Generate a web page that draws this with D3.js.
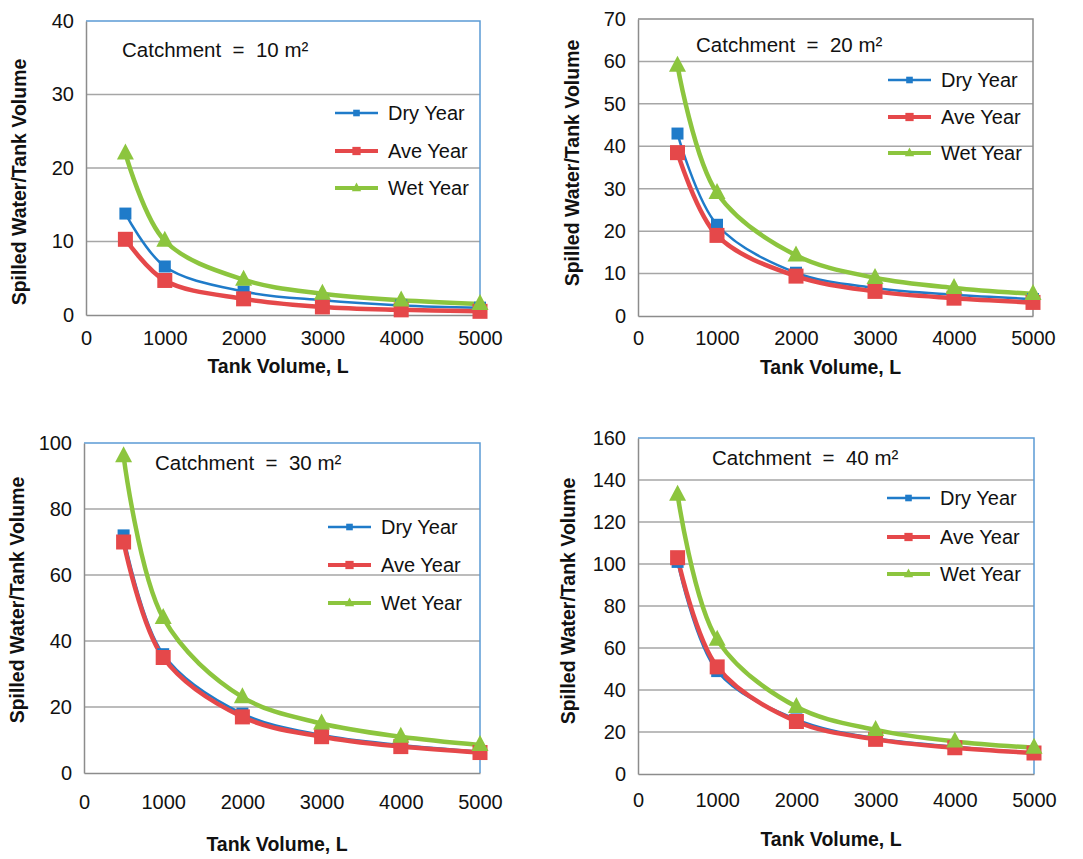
<!DOCTYPE html>
<html>
<head>
<meta charset="utf-8">
<script src="https://cdn.jsdelivr.net/npm/d3@7"></script>
<style>
  body { margin: 0; background: #fff; }
  text { font-family: "Liberation Sans", Arial, sans-serif; fill: #111; }
</style>
</head>
<body>
<div id="chart"></div>
<script>
// data
const tankVolumes = [500, 1000, 2000, 3000, 4000, 5000];
const xTicks = [0, 1000, 2000, 3000, 4000, 5000];
const seriesNames = ["Dry Year", "Ave Year", "Wet Year"];
const catchments = [10, 20, 30, 40];
const yMaxes = [40, 70, 100, 160];
const yTickSteps = [10, 10, 20, 20];

const dry10 = [13.8, 6.6, 3.2, 2.0, 1.3, 1.0];
const ave10 = [10.3, 4.7, 2.2, 1.1, 0.7, 0.5];
const wet10 = [22.0, 10.1, 4.8, 2.9, 2.0, 1.5];

const dry20 = [43.0, 21.5, 10.2, 6.6, 5.0, 4.0];
const ave20 = [38.5, 19.0, 9.4, 5.8, 4.2, 3.2];
const wet20 = [59.0, 29.0, 14.3, 9.0, 6.6, 5.2];

const dry30 = [72.0, 36.0, 18.0, 11.5, 8.5, 6.5];
const ave30 = [70.0, 35.0, 17.0, 11.0, 8.0, 6.2];
const wet30 = [96.0, 47.0, 23.0, 15.0, 11.0, 8.5];

const dry40 = [101.0, 49.0, 26.0, 17.0, 13.0, 10.0];
const ave40 = [103.0, 51.0, 25.0, 16.5, 12.5, 10.0];
const wet40 = [133.0, 64.0, 32.0, 21.0, 15.5, 12.5];

const panelData = [
  [dry10, ave10, wet10],
  [dry20, ave20, wet20],
  [dry30, ave30, wet30],
  [dry40, ave40, wet40]
];

const colors = ["#1f7bc9", "#e5484a", "#8cc53e"];
const lineWidths = [2.5, 4.5, 4.5];

// layout of each panel (pixel boxes)
const boxes = [
  {l: 86, r: 480, t: 21, b: 315, tickDy: 30, titleDy: 58, yTitleX: 19, yTitleY: 182, cx: 122, cy: 57, legY: [113, 151, 188], legX: 335, frame: "#5b9bd5"},
  {l: 638, r: 1033, t: 19, b: 316, tickDy: 29, titleDy: 58, yTitleX: 572, yTitleY: 163, cx: 696, cy: 52, legY: [80, 117, 153], legX: 888, frame: "#8c8c8c"},
  {l: 84, r: 480, t: 443, b: 773, tickDy: 36, titleDy: 78, yTitleX: 17, yTitleY: 600, cx: 155, cy: 470, legY: [527, 565, 603], legX: 328, frame: "#5b9bd5"},
  {l: 638, r: 1034, t: 438, b: 774, tickDy: 33, titleDy: 72, yTitleX: 568, yTitleY: 601, cx: 712, cy: 465, legY: [498, 537, 574], legX: 887, frame: "#5b9bd5"}
];

const svg = d3.select("#chart")
  .append("svg")
  .attr("width", 1083)
  .attr("height", 859);

function marker(g, i, x, y, big) {
  const s = big ? 1 : 0.55;
  if (i === 2) {
    const w = 17 * s, h = 16 * s;
    g.append("path")
      .attr("d", `M${x},${y - h * 0.62}L${x + w / 2},${y + h * 0.38}L${x - w / 2},${y + h * 0.38}Z`)
      .attr("fill", colors[i]);
  } else {
    const size = (i === 0 ? 12 : 15) * s;
    g.append("rect")
      .attr("x", x - size / 2).attr("y", y - size / 2)
      .attr("width", size).attr("height", size)
      .attr("fill", colors[i]);
  }
}

boxes.forEach((p, k) => {
  const x = d3.scaleLinear().domain([0, 5000]).range([p.l, p.r]);
  const y = d3.scaleLinear().domain([0, yMaxes[k]]).range([p.b, p.t]);
  const yTicks = d3.range(0, yMaxes[k] + 1, yTickSteps[k]);
  const g = svg.append("g");

  // grid lines
  g.selectAll(".grid")
    .data(yTicks.slice(1, -1))
    .enter().append("line")
    .attr("x1", p.l).attr("x2", p.r)
    .attr("y1", d => y(d)).attr("y2", d => y(d))
    .attr("stroke", "#a6a6a6").attr("stroke-width", 1.5);

  // frame: top and right
  g.append("path")
    .attr("d", `M${p.l},${p.t}H${p.r}V${p.b}`)
    .attr("fill", "none").attr("stroke", p.frame).attr("stroke-width", 1.5);

  // axes
  const xAxis = g.append("g")
    .attr("transform", `translate(0,${p.b})`)
    .call(d3.axisBottom(x).tickValues(xTicks).tickFormat(d3.format("d")).tickSize(0).tickPadding(p.tickDy - 14));
  const yAxis = g.append("g")
    .attr("transform", `translate(${p.l},0)`)
    .call(d3.axisLeft(y).tickValues(yTicks).tickFormat(d3.format("d")).tickSize(0).tickPadding(12));
  [xAxis, yAxis].forEach(a => {
    a.select(".domain").attr("stroke", "#8c8c8c").attr("stroke-width", 1.5);
    a.selectAll("text").attr("font-size", 20).attr("fill", "#111")
      .attr("font-family", "'Liberation Sans', Arial, sans-serif");
  });

  // axis titles
  g.append("text")
    .attr("x", (p.l + p.r) / 2 - 5)
    .attr("y", p.b + p.titleDy)
    .attr("text-anchor", "middle")
    .attr("font-size", 19.5).attr("font-weight", "bold")
    .text("Tank Volume, L");
  g.append("text")
    .attr("transform", `translate(${p.yTitleX + 7},${p.yTitleY}) rotate(-90)`)
    .attr("text-anchor", "middle")
    .attr("font-size", 19.5).attr("font-weight", "bold")
    .text("Spilled  Water/Tank Volume");

  // catchment label
  g.append("text")
    .attr("x", p.cx).attr("y", p.cy)
    .attr("font-size", 20.5)
    .style("white-space", "pre")
    .text(`Catchment  =  ${catchments[k]} m²`);

  // series
  panelData[k].forEach((vals, i) => {
    const pts = tankVolumes.map((v, j) => [x(v), y(vals[j])]);
    g.append("path")
      .attr("d", d3.line().curve(d3.curveCatmullRom.alpha(0.5))(pts))
      .attr("fill", "none")
      .attr("stroke", colors[i])
      .attr("stroke-width", lineWidths[i]);
  });
  panelData[k].forEach((vals, i) => {
    tankVolumes.forEach((v, j) => marker(g, i, x(v), y(vals[j]), true));
  });

  // legend
  seriesNames.forEach((name, i) => {
    const ly = p.legY[i];
    g.append("line")
      .attr("x1", p.legX).attr("x2", p.legX + 43)
      .attr("y1", ly).attr("y2", ly)
      .attr("stroke", colors[i]).attr("stroke-width", i === 0 ? 2.5 : 4);
    marker(g, i, p.legX + 21.5, ly, false);
    g.append("text")
      .attr("x", p.legX + 53).attr("y", ly + 7)
      .attr("font-size", 20)
      .text(name);
  });
});
</script>
</body>
</html>
